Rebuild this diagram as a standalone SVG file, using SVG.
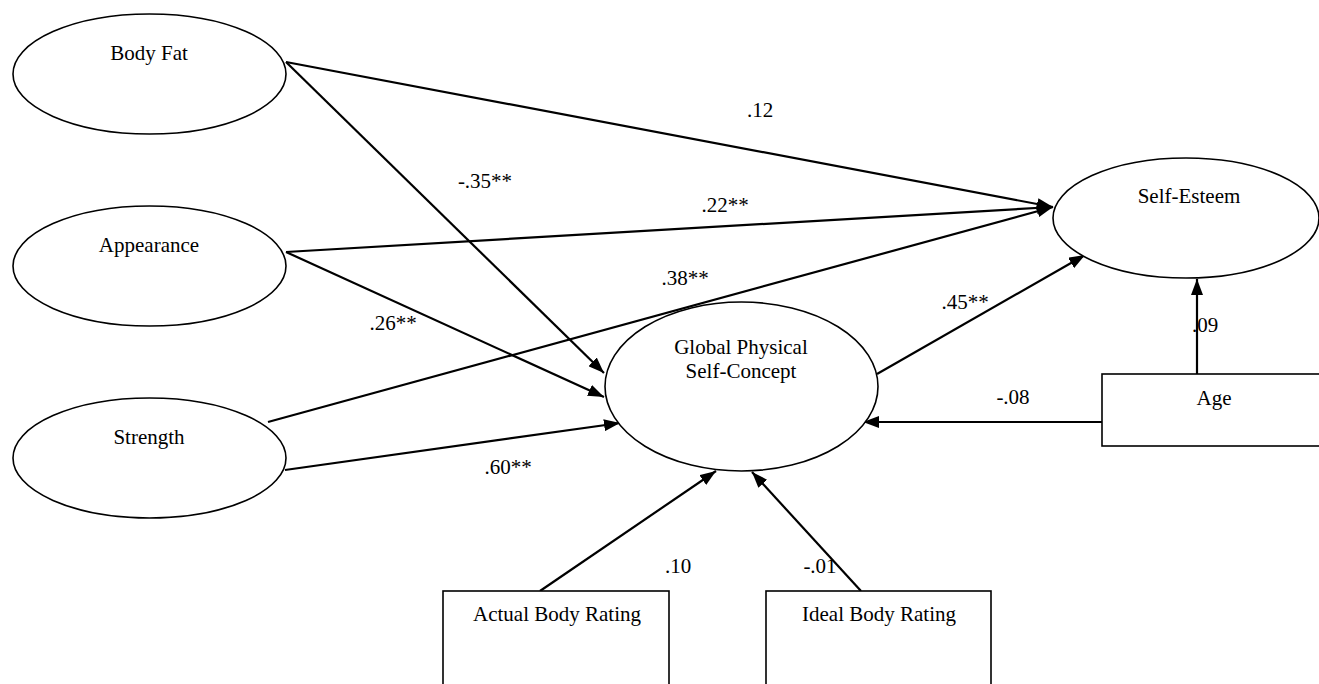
<svg xmlns="http://www.w3.org/2000/svg" width="1319" height="684" viewBox="0 0 1319 684">
<style>
text{font-family:"Liberation Serif","Times New Roman",serif;font-size:21px;fill:#000;text-anchor:middle}
.node ellipse,.node rect{fill:#fff;stroke:#000;stroke-width:1.6}
.conn path{fill:none;stroke:#000;stroke-width:2.2;marker-end:url(#arr)}
</style>
<defs>
<marker id="arr" markerUnits="userSpaceOnUse" markerWidth="16" markerHeight="12" refX="16" refY="6" orient="auto">
<path d="M0,0 L16,6 L0,12 z" fill="#000"/>
</marker>
</defs>
<rect width="1319" height="684" fill="#fff"/>
<g id="connectors" class="conn">
<path d="M286,62 L1053,207"/>
<path d="M286,252 L1053,207"/>
<path d="M268,422 L1053,207"/>
<path d="M286,62 L604,373"/>
<path d="M286,252 L604,397"/>
<path d="M285,470 L620,423"/>
<path d="M877,374 L1085,255"/>
<path d="M1102,422 L863,422"/>
<path d="M1197,374 L1197,279"/>
<path d="M540,591 L716,471"/>
<path d="M861,591 L752,472"/>
</g>
<g id="bodyfat" class="node"><ellipse cx="149.5" cy="74" rx="136.5" ry="60"/><text x="149" y="60">Body Fat</text></g>
<g id="appearance" class="node"><ellipse cx="149.5" cy="266" rx="136.5" ry="60"/><text x="149" y="252">Appearance</text></g>
<g id="strength" class="node"><ellipse cx="149.5" cy="458" rx="136.5" ry="60"/><text x="149" y="444">Strength</text></g>
<g id="selfesteem" class="node"><ellipse cx="1186" cy="218" rx="133" ry="60"/><text x="1189" y="203">Self-Esteem</text></g>
<g id="gpsc" class="node"><ellipse cx="741.5" cy="386.5" rx="136.5" ry="84.5"/><text x="741" y="354">Global Physical</text><text x="741" y="378">Self-Concept</text></g>
<g id="age" class="node"><rect x="1102" y="374" width="240" height="72"/><text x="1214" y="405">Age</text></g>
<g id="actual" class="node"><rect x="443" y="591" width="226" height="120"/><text x="557" y="621">Actual Body Rating</text></g>
<g id="ideal" class="node"><rect x="766" y="591" width="225" height="120"/><text x="879" y="621">Ideal Body Rating</text></g>
<g id="labels">
<text x="760" y="117">.12</text>
<text x="485" y="188">-.35**</text>
<text x="725" y="212">.22**</text>
<text x="685" y="285">.38**</text>
<text x="393" y="330">.26**</text>
<text x="508" y="474">.60**</text>
<text x="965" y="309">.45**</text>
<text x="1013" y="404">-.08</text>
<text x="1205" y="332">.09</text>
<text x="678" y="573">.10</text>
<text x="820" y="573">-.01</text>
</g>
</svg>
